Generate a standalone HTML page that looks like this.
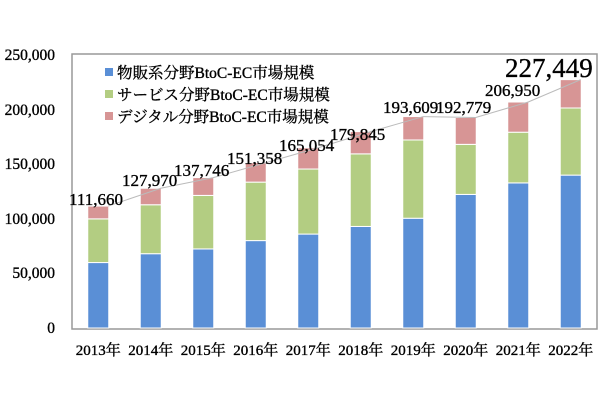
<!DOCTYPE html><html><head><meta charset="utf-8"><style>body{margin:0;background:#fff}text{stroke:#000;stroke-width:0.35}</style></head><body>
<svg width="600" height="400" xmlns="http://www.w3.org/2000/svg" font-family="Liberation Serif, Noto Serif CJK SC, serif">
<rect x="72" y="54" width="525" height="275" fill="none" stroke="#999" stroke-width="1.5"/>
<g font-size="15.5" text-anchor="end" fill="#000">
<text x="55" y="60">250,000</text><text x="55" y="115">200,000</text><text x="55" y="169">150,000</text><text x="55" y="224">100,000</text><text x="55" y="278">50,000</text><text x="55" y="333">0</text>
</g>
<g id="bars" stroke="#fff" stroke-width="1"></g>
<polyline id="ln" fill="none" stroke="#bbb" stroke-width="1"/>
<g font-size="17" fill="#000">
<text x="69" y="205">111,660</text><text x="122" y="186">127,970</text><text x="174" y="176">137,746</text><text x="227" y="164">151,358</text><text x="279" y="151">165,054</text><text x="330" y="140">179,845</text><text x="383" y="113">193,609</text><text x="436" y="113">192,779</text><text x="485" y="96">206,950</text><text x="505" y="77" font-size="27">227,449</text>
</g>
<g font-size="15.5" font-family="Liberation Serif, Noto Serif CJK JP, serif">
<rect x="105" y="68" width="8" height="8" fill="#5a8fd6" stroke="none"/><text x="117" y="78">物販系分野BtoC-EC市場規模</text>
<rect x="105" y="90" width="8" height="8" fill="#b3cd82"/><text x="117" y="100">サービス分野BtoC-EC市場規模</text>
<rect x="105" y="112" width="8" height="8" fill="#d79595"/><text x="117" y="122">デジタル分野BtoC-EC市場規模</text>
</g>
<g id="xl" font-size="15" text-anchor="middle" font-family="Liberation Serif, Noto Serif CJK JP, serif"></g>
</svg>
<script>
var a=[59931,68043,72398,80043,86008,92992,100515,122333,132865,139997],
b=[40000,44816,49014,53532,59568,66471,71672,45832,46424,61477],
c=[11729,15111,16334,17783,19478,20382,21422,24614,27661,25974];
var k=273/250000,g=document.getElementById('bars'),xl=document.getElementById('xl'),pts=[],ns='http://www.w3.org/2000/svg';
function r(x,y,h,f){var e=document.createElementNS(ns,'rect');e.setAttribute('x',x);e.setAttribute('y',y);e.setAttribute('width',21);e.setAttribute('height',h);e.setAttribute('fill',f);g.appendChild(e);}
for(var i=0;i<10;i++){var cx=72+52.5*(i+.5),x=cx-10.5,y=328;
var h=a[i]*k;y-=h;r(x,y,h,'#5a8fd6');h=b[i]*k;y-=h;r(x,y,h,'#b3cd82');h=c[i]*k;y-=h;r(x,y,h,'#d79595');
pts.push((cx+10)+','+y);
var t=document.createElementNS(ns,'text');t.setAttribute('x',cx);t.setAttribute('y',355);t.textContent=(2013+i)+'年';xl.appendChild(t);}
document.getElementById('ln').setAttribute('points',pts.join(' '));
</script>
</body></html>
